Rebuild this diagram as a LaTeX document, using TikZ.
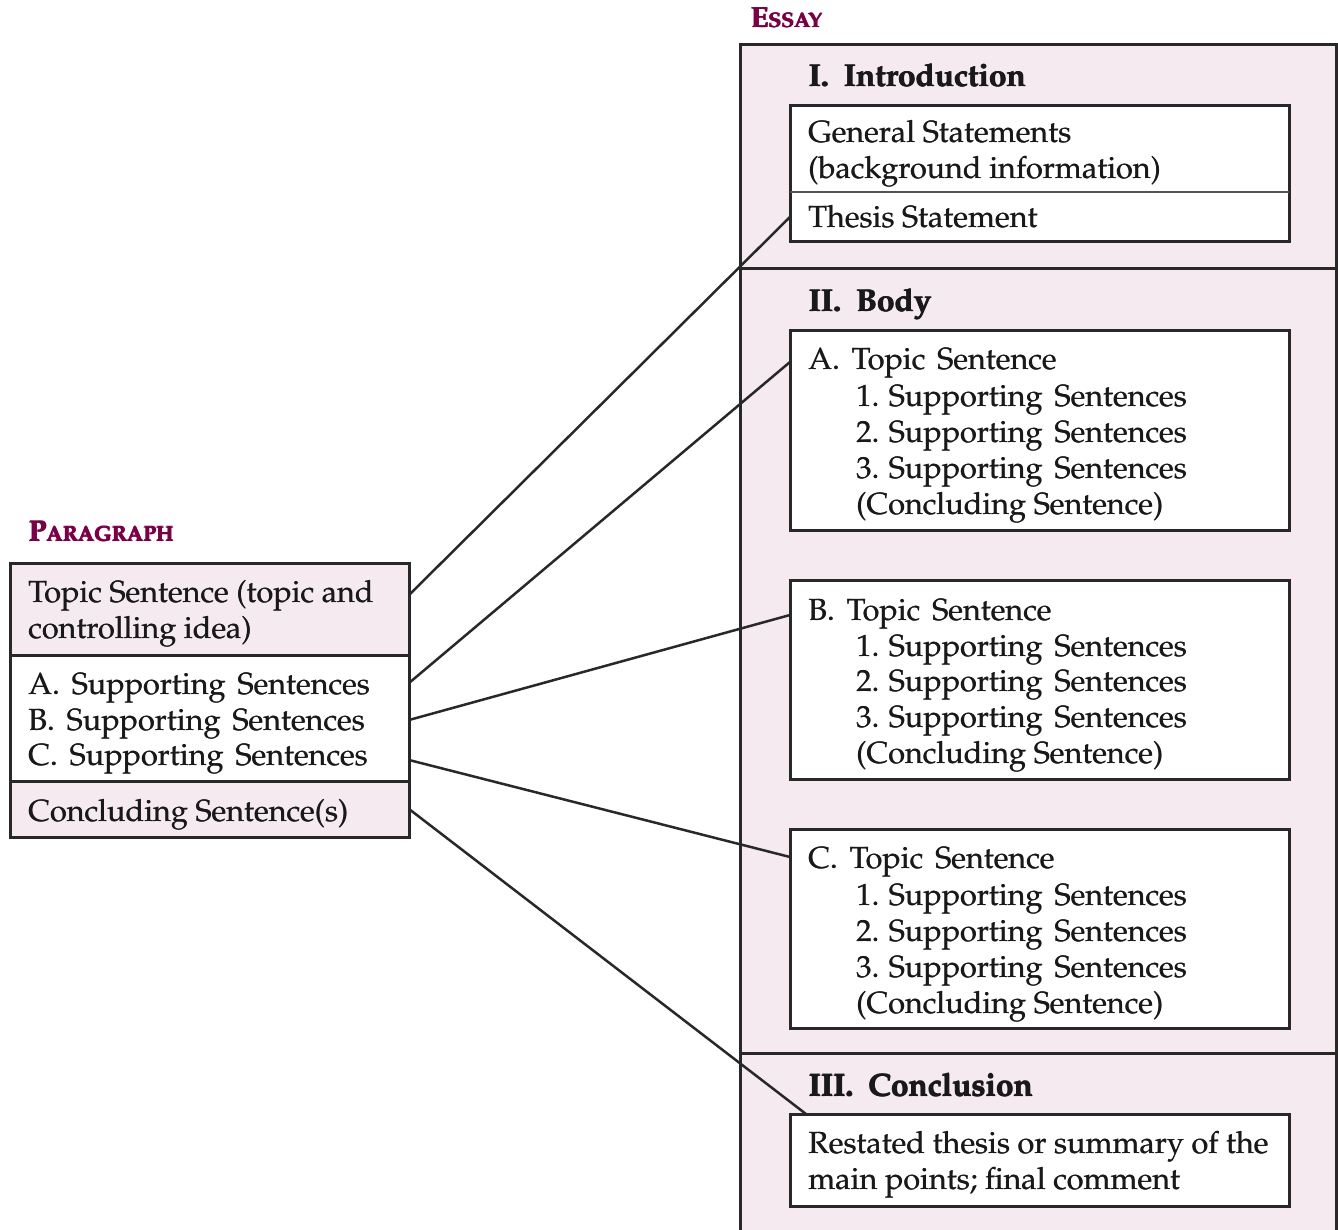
\documentclass[tikz,border=0pt]{standalone}
\usepackage[T1]{fontenc}
\usepackage{mathpazo}
\usetikzlibrary{calc}
\definecolor{pinkbg}{RGB}{244,234,240}
\definecolor{titlered}{RGB}{122,0,70}
\definecolor{edgec}{RGB}{40,40,40}
\newcommand{\wgap}{\hspace{12pt}}
\newcommand{\hgap}{\hspace{15pt}}
\newcommand{\heavy}[1]{\rlap{\hspace{1.1pt}#1}\rlap{\hspace{0.55pt}\raisebox{0.5pt}{#1}}#1}
\newcommand{\semiheavy}[1]{\rlap{\hspace{0.45pt}#1}#1}
\begin{document}
\begin{tikzpicture}[x=1pt,y=-1pt,
  box/.style={draw=edgec,line width=3pt,inner sep=0pt,outer sep=0pt,anchor=north west},
  txt/.style={inner sep=0pt,anchor=base west,font=\fontsize{30.6}{36}\selectfont,text=black!90},
  hd/.style={inner sep=0pt,anchor=base west,font=\fontsize{31.5}{36}\selectfont\bfseries,text=black!90},
  ttl/.style={inner sep=0pt,anchor=base west,font=\bfseries,text=titlered},
  conn/.style={draw=edgec,line width=2.5pt}]
\useasboundingbox (0,0) rectangle (1338,1230);
\clip (0,0) rectangle (1338,1230);

% ---------- Essay sections ----------
\node[box,fill=pinkbg,minimum width=596pt,minimum height=224pt] (eIntro) at (740,45) {};
\node[box,fill=pinkbg,minimum width=596pt,minimum height=784pt] (eBody) at (740,269) {};
\node[inner sep=0pt,outer sep=0pt,anchor=north west,fill=pinkbg,minimum width=596pt,minimum height=200pt] (eConc) at (740,1053) {};
\draw[draw=edgec,line width=3pt] (eConc.south west) -- (eConc.north west) -- (eConc.north east) -- (eConc.south east);

% inner boxes
\node[box,fill=white,minimum width=499pt,minimum height=136pt] (iIntro) at (790,106) {};
\node[inner sep=0pt,outer sep=0pt,anchor=north west,minimum width=499pt,minimum height=50pt] (iThesis) at (790,192) {};
\draw[draw=edgec!80,line width=2pt] (iThesis.north west) -- (iThesis.north east);
\node[box,fill=white,minimum width=499pt,minimum height=199pt] (bA) at (790,331) {};
\node[box,fill=white,minimum width=499pt,minimum height=199pt] (bB) at (790,580) {};
\node[box,fill=white,minimum width=499pt,minimum height=199pt] (bC) at (790,829) {};
\node[box,fill=white,minimum width=499pt,minimum height=92pt] (cBox) at (790,1114) {};

% ---------- Paragraph ----------
\node[box,fill=pinkbg,minimum width=399pt,minimum height=92pt] (pTop) at (10,563) {};
\node[box,fill=white,minimum width=399pt,minimum height=126pt] (pMid) at (10,655) {};
\node[box,fill=pinkbg,minimum width=399pt,minimum height=56pt] (pBot) at (10,781) {};

% ---------- Titles ----------
\node[ttl] (tEssay) at (750,28) {\heavy{\fontsize{29}{30}\selectfont E\fontsize{21}{30}\selectfont SSAY}};
\node[ttl] (tPara) at (28,541) {\heavy{\fontsize{29}{30}\selectfont P\fontsize{21}{30}\selectfont ARAGRAPH}};

% ---------- Essay texts ----------
\node[hd] (hI) at (808,87) {\heavy{I.\hgap Introduction}};
\node[txt] (g1) at (808,143) {\semiheavy{General Statements}};
\node[txt] (g2) at (808,179) {\semiheavy{(background information)}};
\node[txt] (g3) at (808,228) {\semiheavy{Thesis Statement}};

\node[hd] (hII) at (808,312) {\heavy{II.\hgap Body}};
\node[txt] (a0) at (808,370) {\semiheavy{A.\wgap Topic\wgap Sentence}};
\node[txt] (a1) at (856,406) {\semiheavy{1. Supporting\wgap Sentences}};
\node[txt] (a2) at (856,442) {\semiheavy{2. Supporting\wgap Sentences}};
\node[txt] (a3) at (856,478) {\semiheavy{3. Supporting\wgap Sentences}};
\node[txt] (a4) at (856,514) {\semiheavy{(Concluding Sentence)}};

\node[txt] (b0) at (808,620) {\semiheavy{B.\wgap Topic\wgap Sentence}};
\node[txt] (b1) at (856,656) {\semiheavy{1. Supporting\wgap Sentences}};
\node[txt] (b2) at (856,691) {\semiheavy{2. Supporting\wgap Sentences}};
\node[txt] (b3) at (856,727) {\semiheavy{3. Supporting\wgap Sentences}};
\node[txt] (b4) at (856,763) {\semiheavy{(Concluding Sentence)}};

\node[txt] (c0) at (808,868) {\semiheavy{C.\wgap Topic\wgap Sentence}};
\node[txt] (c1) at (856,905) {\semiheavy{1. Supporting\wgap Sentences}};
\node[txt] (c2) at (856,941) {\semiheavy{2. Supporting\wgap Sentences}};
\node[txt] (c3) at (856,977) {\semiheavy{3. Supporting\wgap Sentences}};
\node[txt] (c4) at (856,1013) {\semiheavy{(Concluding Sentence)}};

\node[hd] (hIII) at (808,1096) {\heavy{III.\hgap Conclusion}};
\node[txt] (r1) at (808,1153) {\semiheavy{Restated thesis or summary of the}};
\node[txt] (r2) at (808,1189) {\semiheavy{main points; final comment}};

% ---------- Paragraph texts ----------
\node[txt] (p1) at (28,602) {\semiheavy{Topic Sentence (topic and}};
\node[txt] (p2) at (28,638) {\semiheavy{controlling idea)}};
\node[txt] (p3) at (28,694) {\semiheavy{A.\wgap Supporting\wgap Sentences}};
\node[txt] (p4) at (28,730) {\semiheavy{B.\wgap Supporting\wgap Sentences}};
\node[txt] (p5) at (28,765) {\semiheavy{C.\wgap Supporting\wgap Sentences}};
\node[txt] (p6) at (28,821) {\semiheavy{Concluding Sentence(s)}};

% ---------- Connectors ----------
\draw[conn] ($(pTop.east)+(0,-14)$) -- (iThesis.west);
\draw[conn] ($(pMid.east)+(0,-35)$) -- ($(bA.north west)+(0,31)$);
\draw[conn] ($(pMid.east)+(0,2)$) -- ($(bB.north west)+(0,35)$);
\draw[conn] ($(pMid.east)+(0,42)$) -- ($(bC.north west)+(0,28)$);
\draw[conn] (pBot.east) -- ($(cBox.north west)+(16,0)$);
\end{tikzpicture}
\end{document}
